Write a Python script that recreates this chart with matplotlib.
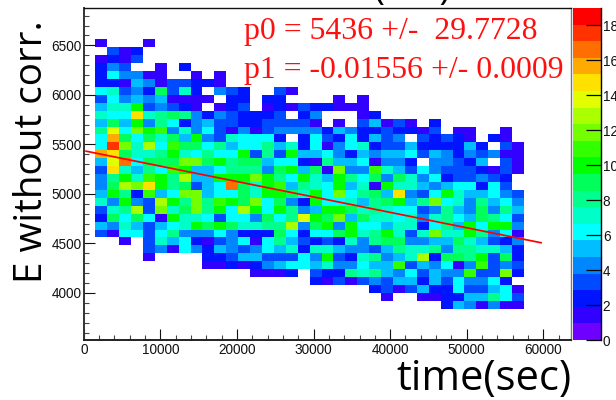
import numpy as np
import matplotlib
matplotlib.use("Agg")
import matplotlib.pyplot as plt
from matplotlib.colors import ListedColormap, BoundaryNorm

# counts per row, top row first, columns left to right
counts_rows = [
 [1,0,0,0,1,0,0,0,0,0,0,0,0,0,0,0,0,0,0, 0,0,0,0,0,0,0,0,0,0,0,0,0,0,0,0,0],
 [0,3,1,2,0,0,0,0,0,0,0,0,0,0,0,0,0,0,0, 0,0,0,0,0,0,0,0,0,0,0,0,0,0,0,0,0],
 [1,2,1,3,0,0,0,0,0,0,0,0,0,0,0,0,0,0,0, 0,0,0,0,0,0,0,0,0,0,0,0,0,0,0,0,0],
 [2,4,3,0,0,1,0,2,0,0,0,0,0,0,0,0,0,0,0, 0,0,0,0,0,0,0,0,0,0,0,0,0,0,0,0,0],
 [2,6,4,4,1,1,0,0,1,0,1,0,0,0,0,0,0,0,0, 0,0,0,0,0,0,0,0,0,0,0,0,0,0,0,0,0],
 [2,2,1,5,4,1,3,3,2,2,1,0,0,0,0,0,0,0,0, 0,0,0,0,0,0,0,0,0,0,0,0,0,0,0,0,0],
 [6,7,3,4,2,9,3,7,2,0,4,3,2,0,0,3,1,0,0, 0,0,0,0,0,0,0,0,0,0,0,0,0,0,0,0,0],
 [3,6,4,5,4,5,1,1,1,1,0,2,2,0,2,2,0,0,0, 0,1,0,1,0,0,0,0,0,0,0,0,0,0,0,0,0],
 [5,7,7,10,3,4,3,2,1,0,1,2,3,0,1,2,1,3,2, 2,1,1,1,0,0,0,0,0,0,0,0,0,0,0,0,0],
 [7,6,6,15,7,8,9,8,4,2,4,3,2,2,2,3,0,2,4, 0,0,0,1,2,0,0,0,0,0,0,0,0,0,0,0,0],
 [5,9,5,10,4,8,6,2,4,5,3,3,2,2,3,3,3,3,1, 0,1,0,3,5,1,3,1,0,2,0,0,0,0,0,0,0],
 [8,14,6,12,10,11,4,7,4,6,3,1,4,1,3,4,4,4,4, 2,5,4,2,2,3,2,2,1,3,0,1,1,0,0,1,0],
 [6,16,9,6,9,7,9,5,10,4,3,7,6,6,6,2,0,2,6, 3,2,6,2,5,3,4,0,3,2,3,2,1,0,2,1,0],
 [6,18,12,7,13,6,11,9,9,6,8,5,6,6,8,5,7,2,6, 1,4,6,7,2,3,3,5,2,2,2,2,5,2,0,3,1],
 [16,15,9,7,7,8,10,7,6,8,6,6,10,3,8,3,10,5,5, 6,4,2,5,4,5,5,6,3,5,4,2,4,3,4,1,1],
 [5,14,17,6,9,9,9,12,12,9,10,8,9,9,5,6,6,2,1, 8,5,5,6,1,4,4,2,0,4,4,3,2,5,0,3,1],
 [3,15,7,5,8,6,11,10,5,5,6,8,8,8,4,9,10,5,9, 1,12,4,4,11,7,5,3,6,4,3,3,3,2,1,3,1],
 [4,8,10,7,11,10,8,13,5,5,10,10,10,12,10,8,6,10,7, 5,10,8,6,9,4,9,7,4,6,2,3,3,4,3,2,0],
 [4,9,13,12,15,10,8,9,3,5,6,17,9,7,10,11,5,8,7, 6,10,5,7,1,10,7,7,5,4,5,6,6,2,6,3,0],
 [5,10,8,2,11,5,6,12,12,5,6,6,9,7,10,10,9,7,10, 6,12,6,8,9,5,15,4,3,6,10,7,5,5,6,4,3],
 [7,4,10,4,3,13,10,8,12,8,11,10,9,12,6,9,4,2,10, 6,6,7,5,8,9,10,5,8,12,6,7,4,8,5,6,4],
 [3,7,8,13,3,12,7,9,12,8,10,6,13,10,6,10,8,4,5, 10,10,9,7,8,7,6,6,3,4,8,5,4,9,4,8,5],
 [2,9,6,9,6,1,10,7,7,6,3,6,6,4,9,6,8,14,10, 9,12,5,9,7,7,6,7,4,7,8,6,5,9,8,6,3],
 [5,4,7,5,3,5,6,7,10,9,10,9,7,7,8,8,13,4,9, 10,4,10,6,6,5,7,7,2,6,8,5,10,6,10,10,4],
 [3,1,6,6,3,6,8,4,4,4,6,4,2,2,2,9,6,2,6, 6,9,10,7,8,10,7,3,7,12,7,7,10,8,4,6,1],
 [0,0,1,0,3,7,5,6,2,1,3,4,6,1,6,8,5,3,2, 3,2,7,4,8,9,9,4,4,5,5,9,7,5,3,2,4],
 [0,0,0,0,3,4,1,6,4,2,5,4,3,4,6,5,7,2,7, 7,5,4,4,3,5,8,7,7,8,4,8,8,7,7,5,2],
 [0,0,0,0,1,0,0,0,0,2,2,3,5,5,3,3,3,6,4, 10,3,2,7,8,4,5,7,13,2,9,9,8,10,3,9,2],
 [0,0,0,0,0,0,0,0,0,1,1,2,1,2,4,5,6,6,5, 7,4,4,6,5,5,11,3,5,4,6,1,4,11,3,4,3],
 [0,0,0,0,0,0,0,0,0,0,0,0,0,1,1,1,2,0,3, 2,2,8,7,8,5,4,6,3,5,4,4,11,3,3,12,2],
 [0,0,0,0,0,0,0,0,0,0,0,0,0,0,0,0,0,0,2, 1,3,1,3,4,3,5,5,2,5,3,6,4,4,6,2,0],
 [0,0,0,0,0,0,0,0,0,0,0,0,0,0,0,0,0,0,0, 0,0,0,0,2,3,1,3,5,2,2,6,3,3,5,6,1],
 [0,0,0,0,0,0,0,0,0,0,0,0,0,0,0,0,0,0,0, 0,0,0,0,0,1,0,0,1,1,2,2,5,5,8,6,3],
 [0,0,0,0,0,0,0,0,0,0,0,0,0,0,0,0,0,0,0, 0,0,0,0,0,0,0,0,0,0,2,5,4,1,4,1,1],
]
x_bin_width = 1555
x_first_edge = 1500
y_top_edge = 6560
y_bin_height = 80

palette = ["#6e00ff","#3200ff","#0014ff","#004bff","#0087ff","#00beff","#00ffff",
           "#00ffc8","#00ff8c","#00ff5a","#00ff00","#32ff00","#73ff00","#aaff00",
           "#e1ff00","#ffe100","#ffaa00","#ff6e00","#ff3200","#ff0000"]
z_max = 19
fit_p0 = 5436
fit_p1 = -0.01556
fit_x = [300, 59700]

x_major = [0, 10000, 20000, 30000, 40000, 50000, 60000]
y_major = [4000, 4500, 5000, 5500, 6000, 6500]
z_ticks = [0, 2, 4, 6, 8, 10, 12, 14, 16, 18]

W, H = 616, 400
plt.rcParams['font.family'] = ['Liberation Sans', 'DejaVu Sans']
fig = plt.figure(figsize=(W/100, H/100), dpi=100)

def box(l, t, r, b):
    return [l/W, 1-b/H, (r-l)/W, (b-t)/H]

ax = fig.add_axes(box(83.8, 8, 570.5, 340))
data = np.array(counts_rows, dtype=float)
nrow, ncol = data.shape
xe = x_first_edge + x_bin_width*np.arange(ncol+1)
ye = y_top_edge - y_bin_height*np.arange(nrow+1)
masked = np.ma.masked_equal(data, 0)
bounds = np.linspace(0, z_max, len(palette)+1)
cmap = ListedColormap(palette)
norm = BoundaryNorm(bounds, cmap.N)
ax.pcolormesh(xe, ye, masked, cmap=cmap, norm=norm, linewidth=0, antialiased=False)
xf = np.array(fit_x, float)
ax.plot(xf, fit_p0 + fit_p1*xf, color='#ff0000', lw=1.25)
ax.set_xlim(0, 63550)
ax.set_ylim(3525, 6877)
ax.set_xticks(x_major)
ax.set_yticks(y_major)
ax.set_xticks(np.arange(0, 63001, 2000), minor=True)
ax.set_yticks(np.arange(3600, 6801, 100), minor=True)
ax.tick_params(axis='both', which='major', direction='in', length=7.8, width=0.8, labelsize=9.8, colors='#111111')
ax.tick_params(axis='both', which='minor', direction='in', length=3.8, width=0.8, color='#444444')
ax.tick_params(axis='x', pad=2.5)
ax.tick_params(axis='y', pad=1.5)
for s, lw, c in [('left', 1.4, '#333333'), ('bottom', 1.4, '#222222'), ('top', 1.0, '#111111'), ('right', 1.0, '#777777')]:
    ax.spines[s].set_linewidth(lw)
    ax.spines[s].set_color(c)

fig.text(244/W, 1-38.5/H, "p0 = 5436 +/-  29.7728", color='#ff1010', family='Liberation Serif', fontsize=22.9, va='baseline')
fig.text(244/W, 1-78/H, "p1 = -0.01556 +/- 0.0009", color='#ff1010', family='Liberation Serif', fontsize=22.9, va='baseline')

fig.text(32/W, 1-151.5/H, "E without corr.", rotation=90, family='Open Sans', fontsize=27.8, ha='center', va='center', color='black')
fig.text(483.5/W, 1-379/H, "time(sec)", family='Open Sans', fontsize=30, ha='center', va='center', color='black')
# title of the original is cut by the top edge: only the foot of its brackets shows
fig.text(412/W, 1+0.6/H, "(sec)", family='Open Sans', fontsize=26.5, ha='center', va='baseline', color='black')

cax = fig.add_axes(box(572.5, 8, 600.7, 340))
cax.pcolormesh([0, 1], bounds, np.arange(len(palette)).reshape(-1, 1)+0.5, cmap=cmap,
               norm=BoundaryNorm(np.arange(len(palette)+1), cmap.N))
cax.set_xlim(0, 1)
cax.set_ylim(0, z_max)
cax.set_xticks([])
cax.yaxis.tick_right()
cax.set_yticks(z_ticks)
cax.tick_params(axis='y', direction='in', length=10.6, width=0.9, labelsize=9.8, pad=1.5, labelcolor='#111111')
for s in ['left', 'top', 'bottom']:
    cax.spines[s].set_visible(False)
cax.spines['right'].set_linewidth(1.0)

fig.savefig("out.png", dpi=100)
